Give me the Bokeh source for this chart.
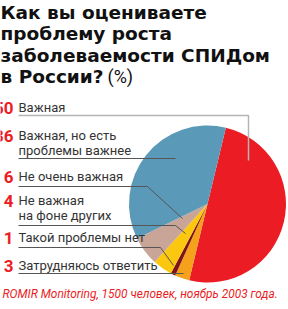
import numpy as np
from bokeh.plotting import figure
from bokeh.models import ColumnDataSource
from bokeh.core.properties import value
from bokeh.embed import file_html
from bokeh.resources import INLINE

# ---- data ----
categories = ["Важная", "Важная, но есть\nпроблемы важнее", "Не очень важная",
              "Не важная\nна фоне других", "Такой проблемы нет", "Затрудняюсь ответить"]
values = [50, 36, 6, 4, 1, 3]
colors = ["#EC1C24", "#5A99B8", "#C8A597", "#FCC80F", "#7E1416", "#F6A11C"]
# order of slices clockwise, starting at the red one
slice_order = [0, 5, 4, 3, 2, 1]
title_lines = ["Как вы оцениваете", "проблему роста", "заболеваемости СПИДом", "в России?"]
source_text = "ROMIR Monitoring, 1500 человек, ноябрь 2003 года."

W, H = 288, 309
p = figure(width=W, height=H, x_range=(0, W), y_range=(0, H),
           output_backend="svg", toolbar_location=None, min_border=0)
p.axis.visible = False
p.grid.visible = False
p.outline_line_color = None
p.background_fill_color = "white"

def Y(y):
    return H - y

# ---- pie ----
cx, cy, r = 207, 203.5, 78.5
start_deg = 13.5  # clockwise from 12 o'clock
vals = np.array([values[i] for i in slice_order], dtype=float)
cum = np.concatenate([[0], np.cumsum(vals)]) / vals.sum() * 360.0
starts = np.radians(90 - (start_deg + cum[:-1]))
ends = np.radians(90 - (start_deg + cum[1:]))
pie = ColumnDataSource(dict(start=starts, end=ends,
                            color=[colors[i] for i in slice_order]))
p.wedge(x=cx, y=Y(cy), radius=r, start_angle="start", end_angle="end",
        direction="clock", fill_color="color", line_color=None, source=pie)

# ---- title ----
title_font = value("DejaVu Sans")
ty = [12, 33, 55, 76]
for t, y in zip(title_lines, ty):
    p.text(x=[0], y=[Y(y)], text=[t], text_font=title_font, text_font_size="18.5px",
           text_font_style="bold", text_color="#111111", text_baseline="middle",
           text_align="left")
p.text(x=[107], y=[Y(ty[3])], text=["(%)"], text_font=value("Roboto"),
       text_font_size="18px", text_color="#111111", text_baseline="middle")

# ---- labels ----
lab_font = value("Roboto")
num_y = [107, 135, 176, 200, 237, 265]
for i, (c, v) in enumerate(zip(categories, values)):
    y0 = num_y[i]
    p.text(x=[13], y=[Y(y0)], text=[str(v)], text_font=lab_font, text_font_size="17px",
           text_font_style="bold", text_color="#EC1C24", text_baseline="middle",
           text_align="right")
    for k, line in enumerate(c.split("\n")):
        p.text(x=[18], y=[Y(y0 + k * 15)], text=[line], text_font=lab_font,
               text_font_size="13px", text_color="#333333", text_baseline="middle")

# ---- leader lines ----
p.line([18, 248, 248], [Y(115), Y(115), Y(160)], line_color="#B4B4B4", line_width=1.5)
leaders = [
    ([18, 175], [158, 158]),
    ([18, 147, 182], [186, 186, 218]),
    ([18, 175, 185], [225, 225, 233]),
    ([18, 160, 173], [247, 247, 265]),
    ([18, 183], [273, 273]),
]
for xs, ys in leaders:
    p.line(xs, [Y(v) for v in ys], line_color="#555555", line_width=1)

# ---- source ----
p.text(x=[2], y=[Y(293)], text=[source_text], text_font=value("Roboto"),
       text_font_size="11.9px", text_font_style="italic", text_color="#EC1C24",
       text_baseline="middle")

open("out.html", "w").write(file_html(p, INLINE))
